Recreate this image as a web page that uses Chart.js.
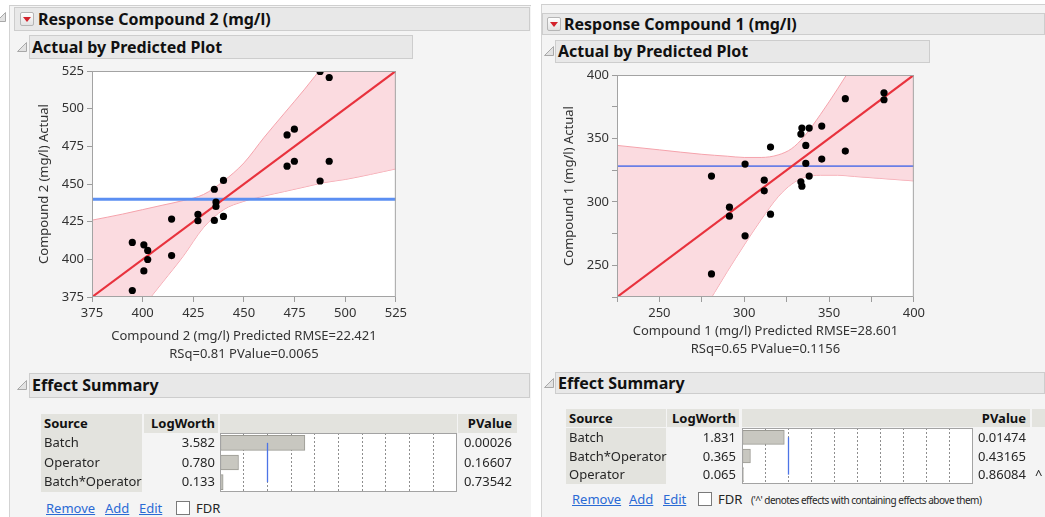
<!DOCTYPE html>
<html lang="en">
<head>
<meta charset="utf-8">
<title>Response Compound 2 / Compound 1 (mg/l)</title>
<script src="https://cdn.jsdelivr.net/npm/chart.js@4.4.1/dist/chart.umd.min.js"></script>
<style>
  html, body { margin: 0; padding: 0; }
  body {
    position: relative; width: 1045px; height: 517px; overflow: hidden;
    background: #fff; font-family: 'Noto Sans', sans-serif; color: #262626;
  }
  .panel { position: absolute; box-sizing: border-box; background: #f4f4f4; border-left: 1px solid #d3d3d3; border-top: 1px solid #cfcfcf; }
  .hdr { position: absolute; box-sizing: border-box; background: #e8e8e8; border: 1px solid #cdcdcd; font-weight: 700; color: #111; white-space: nowrap; }
  .menu { position: absolute; box-sizing: border-box; width: 14px; height: 14px; border: 1px solid #b5b5b5; border-radius: 2px; background: linear-gradient(#fefefe, #e2e2e2); }
  .menu::after { content: ''; position: absolute; left: 2px; top: 4px; border-left: 4px solid transparent; border-right: 4px solid transparent; border-top: 5px solid #d3222c; }
  .disc { position: absolute; width: 10px; height: 10px; }
  canvas { position: absolute; }
  .cell { position: absolute; box-sizing: border-box; font-size: 13px; white-space: nowrap; }
  .gray { background: #e3e3de; }
  .b { font-weight: 700; color: #111; }
  .r { text-align: right; }
  .link { position: absolute; font-size: 13px; line-height: 16px; color: #2a6ad4; text-decoration: underline; }
  .chk { position: absolute; width: 14px; height: 14px; box-sizing: border-box; border: 1px solid #7a7a7a; background: #fff; }
  .txt { position: absolute; font-size: 13px; line-height: 16px; white-space: nowrap; }
</style>
</head>
<body>

<div class="panel" style="left:9px;top:5px;width:522px;height:512px;"></div>
<div class="panel" style="left:541px;top:4px;width:504px;height:513px;"></div>

<svg class="disc" style="left:-4px;top:12px" viewBox="0 0 10 10"><polygon points="0.5,9.5 9.5,0.5 9.5,9.5" fill="#e2e2e2" stroke="#a8a8a8"/></svg>

<!-- left report: Compound 2 -->
<div class="hdr" style="left:14px;top:7px;width:516px;height:24px;font-size:16px;line-height:22px;padding-left:23px;">Response Compound 2 (mg/l)</div>
<div class="menu" style="left:20px;top:12px;"></div>
<svg class="disc" style="left:17px;top:42px" viewBox="0 0 10 10"><polygon points="0.5,9.5 9.5,0.5 9.5,9.5" fill="#e2e2e2" stroke="#a8a8a8"/></svg>
<div class="hdr" style="left:29px;top:35px;width:384px;height:24px;font-size:16px;line-height:22px;padding-left:2px;">Actual by Predicted Plot</div>
<canvas id="avp2" width="380" height="303" style="left:30px;top:60px;"></canvas>
<svg class="disc" style="left:17px;top:380px" viewBox="0 0 10 10"><polygon points="0.5,9.5 9.5,0.5 9.5,9.5" fill="#e2e2e2" stroke="#a8a8a8"/></svg>
<div class="hdr" style="left:29px;top:373px;width:501px;height:25px;font-size:16px;line-height:23px;padding-left:2px;">Effect Summary</div>
<canvas id="lw2" width="237" height="59" style="left:220px;top:433px;"></canvas>
<span class="link" style="left:46px;top:500px;">Remove</span>
<span class="link" style="left:105px;top:500px;">Add</span>
<span class="link" style="left:139px;top:500px;">Edit</span>
<div class="chk" style="left:176px;top:501px;"></div>
<span class="txt" style="left:196px;top:500px;">FDR</span>

<!-- right report: Compound 1 -->
<div class="hdr" style="left:542px;top:13px;width:503px;height:22px;font-size:16px;line-height:20px;padding-left:21px;">Response Compound 1 (mg/l)</div>
<div class="menu" style="left:547px;top:17px;"></div>
<svg class="disc" style="left:544px;top:46px" viewBox="0 0 10 10"><polygon points="0.5,9.5 9.5,0.5 9.5,9.5" fill="#e2e2e2" stroke="#a8a8a8"/></svg>
<div class="hdr" style="left:555px;top:40px;width:375px;height:23px;font-size:16px;line-height:21px;padding-left:2px;">Actual by Predicted Plot</div>
<canvas id="avp1" width="373" height="294" style="left:555px;top:64px;"></canvas>
<svg class="disc" style="left:544px;top:378px" viewBox="0 0 10 10"><polygon points="0.5,9.5 9.5,0.5 9.5,9.5" fill="#e2e2e2" stroke="#a8a8a8"/></svg>
<div class="hdr" style="left:555px;top:372px;width:490px;height:22px;font-size:16px;line-height:20px;padding-left:2px;">Effect Summary</div>
<canvas id="lw1" width="231" height="56" style="left:742px;top:428px;"></canvas>
<span class="link" style="left:572px;top:491px;">Remove</span>
<span class="link" style="left:629px;top:491px;">Add</span>
<span class="link" style="left:663px;top:491px;">Edit</span>
<div class="chk" style="left:698px;top:492px;"></div>
<span class="txt" style="left:718px;top:491px;">FDR</span>
<span class="txt" style="left:751px;top:492px;font-size:10px;letter-spacing:-0.5px;">('^' denotes effects with containing effects above them)</span>

<script>
// ---- Compound 2 (mg/l): actual by predicted ----
const predicted2 = [487.6, 492.1, 471.3, 474.9, 471.3, 474.9, 492.1, 487.6, 439.9, 435.4, 436.2, 436.2,
                    427.3, 427.3, 435.4, 439.9, 414.3, 414.3, 394.9, 400.6, 402.5, 402.5, 400.6, 394.9];
const actual2 = [524.7, 520.7, 482.6, 486.4, 461.8, 465.1, 465.1, 452.0, 452.4, 446.5, 438.0, 435.1,
                 429.8, 425.6, 425.8, 428.5, 426.7, 402.5, 411.2, 409.6, 405.9, 399.9, 392.3, 379.3];
const fitLine2 = [375, 525];
const meanActual2 = 439.8;
const bandX2 = [375, 390, 400, 410, 420, 430, 440, 450, 460, 470, 480, 490, 500, 525];
const bandUpper2 = [426, 430, 433, 436, 439, 443, 452, 464, 481, 497, 513, 530, 547, 590];
const bandLower2 = [324, 350, 368, 385, 402, 421, 433, 438.5, 442, 445, 448, 451, 453, 460];
const ticks2 = { min: 375, max: 525, step: 25, labelEvery: 25 };

// ---- Compound 1 (mg/l): actual by predicted ----
const predicted1 = [382.4, 382.4, 359.6, 359.6, 345.7, 345.7, 334.0, 338.3, 333.4, 336.3, 336.3, 338.3,
                    333.4, 334.0, 315.5, 300.5, 280.7, 311.8, 311.8, 291.3, 291.3, 315.5, 300.5, 280.7];
const actual1 = [386.0, 380.5, 381.3, 340.0, 359.7, 333.7, 358.2, 358.2, 353.4, 344.5, 330.3, 320.3,
                 315.8, 312.4, 343.2, 329.8, 320.3, 317.1, 308.7, 295.8, 288.7, 290.3, 273.2, 243.2];
const fitLine1 = [225, 400];
const meanActual1 = 328.2;
const bandX1 = [225, 250, 275, 290, 300, 310, 320, 328, 335, 345, 355, 365, 380, 400];
const bandUpper1 = [344.5, 341, 337.5, 336, 335, 335, 337, 342, 351, 369, 389, 410, 441, 484];
const bandLower1 = [106, 159, 212, 245, 266, 286, 304, 314, 319, 321, 321, 320, 318.5, 316.5];
const ticks1 = { min: 225, max: 400, step: 25, labelEvery: 50 };

// ---- effect summaries ----
const sources2 = ['Batch', 'Operator', 'Batch*Operator'];
const logWorth2 = [3.582, 0.780, 0.133];
const pValue2 = ['0.00026', '0.16607', '0.73542'];
const sources1 = ['Batch', 'Batch*Operator', 'Operator'];
const logWorth1 = [1.831, 0.365, 0.065];
const pValue1 = ['0.01474', '0.43165', '0.86084'];
const contained1 = ['', '', '^'];
const logWorthMax = 10;
const logWorthRef = 2; // p = 0.01

Chart.defaults.font.family = "'Noto Sans', sans-serif";
Chart.defaults.color = '#333';

// white plot area + grey frame around it
const frame = {
  id: 'frame',
  beforeDraw(chart) {
    const { ctx, chartArea: a } = chart;
    ctx.save();
    ctx.fillStyle = '#fff';
    ctx.fillRect(a.left, a.top, a.width, a.height);
    ctx.restore();
  },
  afterDraw(chart) {
    const { ctx, chartArea: a } = chart;
    ctx.save();
    ctx.strokeStyle = '#a3a3a3';
    ctx.lineWidth = 1;
    ctx.strokeRect(a.left + 0.5, a.top + 0.5, a.width - 1, a.height - 1);
    ctx.restore();
  },
};

// vertical reference line on the logworth bars
const refLine = {
  id: 'refLine',
  afterDatasetsDraw(chart, args, opts) {
    const { ctx, scales: { x, y } } = chart;
    const px = Math.round(x.getPixelForValue(opts.value)) + 0.5;
    ctx.save();
    ctx.strokeStyle = '#4d74e6';
    ctx.lineWidth = 1.3;
    ctx.beginPath();
    ctx.moveTo(px, y.getPixelForValue(0));
    ctx.lineTo(px, y.getPixelForValue(chart.data.labels.length - 1));
    ctx.stroke();
    ctx.restore();
  },
};

const pts = (xs, ys) => xs.map((x, i) => ({ x, y: ys[i] }));

function actualByPredicted(id, o) {
  const bandStyle = {
    type: 'line', borderColor: '#f5a3ac', borderWidth: 1, pointRadius: 0,
    cubicInterpolationMode: 'monotone', clip: 0,
  };
  return new Chart(document.getElementById(id), {
    type: 'scatter',
    data: {
      datasets: [
        { data: pts(o.predicted, o.actual), pointRadius: 3.6, backgroundColor: '#000', borderWidth: 0, clip: 0 },
        { type: 'line', data: pts(o.fit, o.fit), borderColor: '#e8323d', borderWidth: 2.2, pointRadius: 0, clip: 0 },
        { type: 'line', data: pts(o.fit, [o.mean, o.mean]), borderColor: o.meanColor, borderWidth: o.meanWidth, pointRadius: 0, clip: 0 },
        { ...bandStyle, data: pts(o.bandX, o.upper), fill: '+1', backgroundColor: 'rgba(250, 205, 212, 0.72)' },
        { ...bandStyle, data: pts(o.bandX, o.lower), fill: false },
      ],
    },
    options: {
      responsive: false,
      animation: false,
      events: [],
      layout: { padding: { top: 11, right: 13, bottom: 0, left: 0 } },
      plugins: { legend: { display: false }, tooltip: { enabled: false } },
      scales: {
        x: {
          type: 'linear', min: o.ticks.min, max: o.ticks.max,
          afterFit: (s) => { s.height = o.xAxisHeight; },
          ticks: {
            stepSize: o.ticks.step, autoSkip: false, maxRotation: 0, padding: 3,
            color: '#333', font: { size: 13 },
            callback: (v) => (v % o.ticks.labelEvery === 0 ? v : ''),
          },
          grid: { drawOnChartArea: false, drawTicks: true, tickLength: 5, color: '#9c9c9c' },
          border: { display: false },
          title: {
            display: true, text: o.xTitle, color: '#333',
            font: { size: 13, lineHeight: 18 / 13 }, padding: { top: 0, bottom: 0 },
          },
        },
        y: {
          type: 'linear', min: o.ticks.min, max: o.ticks.max,
          afterFit: (s) => { s.width = 62; },
          ticks: {
            stepSize: o.ticks.step, autoSkip: false, padding: 3,
            color: '#333', font: { size: 13 },
            callback: (v) => (v % o.ticks.labelEvery === 0 ? v : ''),
          },
          grid: { drawOnChartArea: false, drawTicks: true, tickLength: 5, color: '#9c9c9c' },
          border: { display: false },
          title: {
            display: true, text: o.yTitle, color: '#333',
            font: { size: 13, lineHeight: 18 / 13 }, padding: { top: 5, bottom: 0 },
          },
        },
      },
    },
    plugins: [frame],
  });
}

function logWorthBars(id, labels, values, thickness) {
  return new Chart(document.getElementById(id), {
    type: 'bar',
    data: {
      labels,
      datasets: [{
        data: values, backgroundColor: '#c8c7c0', borderColor: '#9b9a93', borderWidth: 1,
        borderSkipped: false, barThickness: thickness,
      }],
    },
    options: {
      indexAxis: 'y',
      responsive: false,
      animation: false,
      events: [],
      layout: { padding: 0 },
      plugins: { legend: { display: false }, tooltip: { enabled: false }, refLine: { value: logWorthRef } },
      scales: {
        x: {
          min: 0, max: logWorthMax,
          afterFit: (s) => { s.height = 0; },
          ticks: { display: false, stepSize: 1 },
          grid: { drawTicks: false, color: '#8e8e8e' },
          border: { display: false, dash: [2, 2] },
        },
        y: { display: false },
      },
    },
    plugins: [frame, refLine],
  });
}

function effectTable(t) {
  const add = (cls, x0, x1, top, h, text, style) => {
    const d = document.createElement('div');
    d.className = 'cell ' + cls;
    d.style.cssText = `left:${x0}px;top:${top}px;width:${x1 - x0}px;height:${h}px;line-height:${h}px;${style || ''}`;
    d.textContent = text;
    document.body.appendChild(d);
  };
  const [cs, cl, cb, cp, cx] = t.cols;
  add('gray b', cs[0], cs[1], t.headTop, t.headH, 'Source', 'padding-left:3px;');
  add('gray b r', cl[0], cl[1], t.headTop, t.headH, 'LogWorth', 'padding-right:3px;');
  add('gray', cb[0], cb[1], t.headTop, t.headH, '');
  add('gray b r', cp[0], cp[1], t.headTop, t.headH, 'PValue', 'padding-right:' + t.pPad + 'px;');
  if (cx) add('gray', cx[0], cx[1], t.headTop, t.headH, '');
  add('gray', cs[0], cs[1], t.rowTop, t.rowH * t.sources.length, '');
  t.sources.forEach((s, i) => {
    const top = t.rowTop + i * t.rowH;
    add('', cs[0], cs[1], top, t.rowH, s, 'padding-left:3px;');
    add('r', cl[0], cl[1], top, t.rowH, t.logWorth[i].toFixed(3), 'padding-right:3px;');
    add('r', cp[0], cp[1], top, t.rowH, t.pValue[i], 'padding-right:' + t.pPad + 'px;');
    if (cx && t.marks[i]) add('', cx[0], cx[1], top, t.rowH, t.marks[i], 'padding-left:3px;');
  });
}

actualByPredicted('avp2', {
  predicted: predicted2, actual: actual2, fit: fitLine2, mean: meanActual2,
  bandX: bandX2, upper: bandUpper2, lower: bandLower2, ticks: ticks2,
  meanColor: '#5b8ff2', meanWidth: 3, xAxisHeight: 66,
  xTitle: ['Compound 2 (mg/l) Predicted RMSE=22.421', 'RSq=0.81 PValue=0.0065'],
  yTitle: 'Compound 2 (mg/l) Actual',
});
actualByPredicted('avp1', {
  predicted: predicted1, actual: actual1, fit: fitLine1, mean: meanActual1,
  bandX: bandX1, upper: bandUpper1, lower: bandLower1, ticks: ticks1,
  meanColor: '#6a7fe6', meanWidth: 1.6, xAxisHeight: 61,
  xTitle: ['Compound 1 (mg/l) Predicted RMSE=28.601', 'RSq=0.65 PValue=0.1156'],
  yTitle: 'Compound 1 (mg/l) Actual',
});

logWorthBars('lw2', sources2, logWorth2, 15);
logWorthBars('lw1', sources1, logWorth1, 14);

effectTable({
  sources: sources2, logWorth: logWorth2, pValue: pValue2, marks: [],
  cols: [[41, 142], [144, 218], [220, 457], [458, 517]],
  headTop: 414, headH: 19, rowTop: 433, rowH: 59 / 3, pPad: 5,
});
effectTable({
  sources: sources1, logWorth: logWorth1, pValue: pValue1, marks: contained1,
  cols: [[566, 666], [667, 739], [742, 973], [973, 1030], [1032, 1045]],
  headTop: 409, headH: 18, rowTop: 428, rowH: 56 / 3, pPad: 4,
});
</script>
</body>
</html>
